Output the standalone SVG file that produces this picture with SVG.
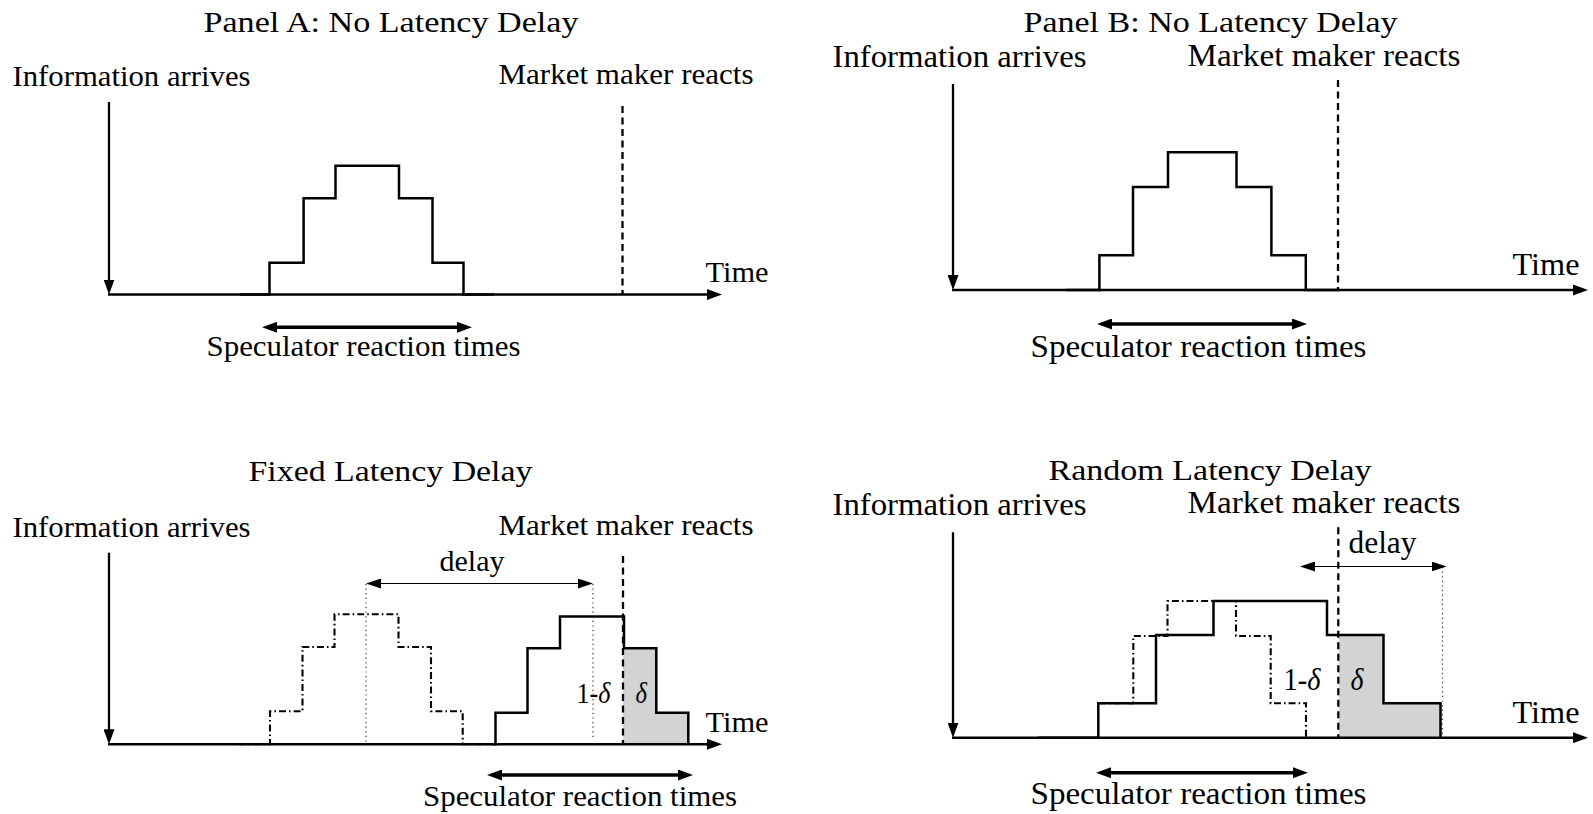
<svg xmlns="http://www.w3.org/2000/svg" width="1593" height="814" viewBox="0 0 1593 814">
  <style>
    text { font-family: "Liberation Serif", "Times New Roman", serif; fill: #000; }
    .t { font-size: 29px; }
    .tb { font-size: 30.5px; }
    .it { font-style: italic; }
    .axis { stroke: #000; stroke-width: 2.6; fill: none; }
    .info { stroke: #000; stroke-width: 2.3; fill: none; }
    .step { stroke: #000; stroke-width: 2.5; fill: none; stroke-linejoin: miter; }
    .ghost { stroke: #000; stroke-width: 2.1; fill: none; stroke-dasharray: 7 3 1.6 3; }
    .mm { stroke: #000; stroke-width: 2.3; fill: none; stroke-dasharray: 7 4.5; }
    .dot { stroke: #333; stroke-width: 1.2; fill: none; stroke-dasharray: 1.2 3.4; }
    .span { stroke: #000; stroke-width: 3.4; fill: none; }
    .thin { stroke: #000; stroke-width: 1.2; fill: none; }
    .share { fill: #d3d3d3; stroke: none; }
  </style>
  <defs>
    <!-- large head for axes and the reaction-time span -->
    <marker id="head" viewBox="0 0 15 11" refX="10" refY="5.5" markerWidth="15" markerHeight="11" markerUnits="userSpaceOnUse" orient="auto-start-reverse">
      <path d="M0,0 L15,5.5 L0,11 Z" fill="#000"/>
    </marker>
    <!-- smaller head for the thin delay span -->
    <marker id="headThin" viewBox="0 0 15 10" refX="13" refY="5" markerWidth="15" markerHeight="10" markerUnits="userSpaceOnUse" orient="auto-start-reverse">
      <path d="M0,0 L15,5 L0,10 Z" fill="#000"/>
    </marker>
  </defs>

  <!-- Panel A -->
  <g id="panelA">
    <text class="t" x="203.5" y="32" textLength="375" lengthAdjust="spacingAndGlyphs">Panel A: No Latency Delay</text>
    <text class="t" x="12.5" y="85.5" textLength="238" lengthAdjust="spacingAndGlyphs">Information arrives</text>
    <text class="t" x="498.5" y="84" textLength="255" lengthAdjust="spacingAndGlyphs">Market maker reacts</text>
    <text class="t" x="705.5" y="281.5" textLength="63" lengthAdjust="spacingAndGlyphs">Time</text>
    <text class="t" x="206.5" y="356" textLength="314" lengthAdjust="spacingAndGlyphs">Speculator reaction times</text>
    <path class="step" d="M240,294.5 H269.5 V262.7 H303.6 V198.3 H335.5 V165.7 H399 V198.3 H432.5 V262.7 H463.5 V294.5 H494"/>
    <line class="mm" x1="622.5" y1="106" x2="622.5" y2="294.5"/>
  </g>

  <!-- Panel B -->
  <g id="panelB">
    <text class="t" x="1023.5" y="32" textLength="374" lengthAdjust="spacingAndGlyphs">Panel B: No Latency Delay</text>
    <text class="tb" x="832.5" y="66.5" textLength="254" lengthAdjust="spacingAndGlyphs">Information arrives</text>
    <text class="tb" x="1187.5" y="65.5" textLength="273" lengthAdjust="spacingAndGlyphs">Market maker reacts</text>
    <text class="tb" x="1512.5" y="275" textLength="67" lengthAdjust="spacingAndGlyphs">Time</text>
    <text class="tb" x="1030.5" y="357" textLength="336" lengthAdjust="spacingAndGlyphs">Speculator reaction times</text>
    <path class="step" d="M1066,290 H1099.4 V255.3 H1133 V187 H1168 V152.3 H1236.5 V187 H1271.4 V255.3 H1305.8 V290 H1339"/>
    <line class="mm" x1="1338" y1="80" x2="1338" y2="290"/>
  </g>

  <!-- Panel C -->
  <g id="panelC">
    <text class="t" x="248.5" y="480.5" textLength="284" lengthAdjust="spacingAndGlyphs">Fixed Latency Delay</text>
    <text class="t" x="12.5" y="536.5" textLength="238" lengthAdjust="spacingAndGlyphs">Information arrives</text>
    <text class="t" x="498.5" y="535" textLength="255" lengthAdjust="spacingAndGlyphs">Market maker reacts</text>
    <text class="t" x="439.5" y="571" textLength="65" lengthAdjust="spacingAndGlyphs">delay</text>
    <text class="t" x="705.5" y="731.5" textLength="63" lengthAdjust="spacingAndGlyphs">Time</text>
    <text class="t" x="423" y="806" textLength="314" lengthAdjust="spacingAndGlyphs">Speculator reaction times</text>
    <path class="share" d="M623,744.3 V648.3 H656.3 V712.7 H688.3 V744.3 Z"/>
    <line class="dot" x1="366" y1="584" x2="366" y2="744"/>
    <line class="dot" x1="593" y1="584" x2="593" y2="737"/>
    <path class="ghost" d="M239,744.3 H270 V711.3 H302.5 V647 H334.5 V614.3 H398.5 V647 H431 V711.3 H462.7 V744.3 H494"/>
    <path class="step" d="M494,744.3 H495.5 V712.7 H527.5 V648.3 H560 V616.5 H624 V648.3 H656.3 V712.7 H688.3 V744.3"/>
    <line class="mm" x1="623" y1="556" x2="623" y2="744.3"/>
    <line class="thin" x1="368" y1="583.5" x2="591" y2="583.5" marker-start="url(#headThin)" marker-end="url(#headThin)"/>
    <text class="t" x="576.5" y="702.7" textLength="34" lengthAdjust="spacingAndGlyphs">1-<tspan class="it">δ</tspan></text>
    <text class="t it" x="635.5" y="702.7" textLength="11.5" lengthAdjust="spacingAndGlyphs">δ</text>
  </g>

  <!-- Panel D -->
  <g id="panelD">
    <text class="t" x="1048.5" y="480" textLength="323" lengthAdjust="spacingAndGlyphs">Random Latency Delay</text>
    <text class="tb" x="832.5" y="515" textLength="254" lengthAdjust="spacingAndGlyphs">Information arrives</text>
    <text class="tb" x="1187.5" y="513" textLength="273" lengthAdjust="spacingAndGlyphs">Market maker reacts</text>
    <text class="tb" x="1348.5" y="553" textLength="68" lengthAdjust="spacingAndGlyphs">delay</text>
    <text class="tb" x="1512.5" y="723" textLength="67" lengthAdjust="spacingAndGlyphs">Time</text>
    <text class="tb" x="1030.5" y="804" textLength="336" lengthAdjust="spacingAndGlyphs">Speculator reaction times</text>
    <path class="share" d="M1339,737.7 V635 H1383.5 V703.3 H1440.5 V737.7 Z"/>
    <line class="dot" x1="1442.5" y1="567" x2="1442.5" y2="737.7"/>
    <path class="ghost" d="M1099,703.3 H1133.3 V636 H1167.5 V601 H1236 V636 H1270.7 V703.3 H1306 V737.7"/>
    <path class="step" d="M1038,737.7 H1098.3 V703.3 H1156 V635 H1213.5 V601 H1327 V635 H1383.5 V703.3 H1440.5 V737.7"/>
    <line class="mm" x1="1338.3" y1="527.3" x2="1338.3" y2="737.7"/>
    <line class="thin" x1="1302" y1="566.5" x2="1444.5" y2="566.5" marker-start="url(#headThin)" marker-end="url(#headThin)"/>
    <text class="tb" x="1283.5" y="690" textLength="37" lengthAdjust="spacingAndGlyphs">1-<tspan class="it">δ</tspan></text>
    <text class="tb it" x="1350.5" y="690" textLength="13" lengthAdjust="spacingAndGlyphs">δ</text>
  </g>

  <!-- arrows: information arrival, time axes, reaction-time spans -->
  <g id="connectors">
    <line class="info" x1="109" y1="102" x2="109" y2="289.5" marker-end="url(#head)"/>
    <line class="axis" x1="108" y1="294.5" x2="717" y2="294.5" marker-end="url(#head)"/>
    <line class="span" x1="267" y1="327.3" x2="467" y2="327.3" marker-start="url(#head)" marker-end="url(#head)"/>

    <line class="info" x1="953" y1="84" x2="953" y2="285" marker-end="url(#head)"/>
    <line class="axis" x1="952" y1="290" x2="1583" y2="290" marker-end="url(#head)"/>
    <line class="span" x1="1102" y1="324" x2="1302" y2="324" marker-start="url(#head)" marker-end="url(#head)"/>

    <line class="info" x1="109" y1="552.7" x2="109" y2="739.3" marker-end="url(#head)"/>
    <line class="axis" x1="108" y1="744.3" x2="717" y2="744.3" marker-end="url(#head)"/>
    <line class="span" x1="492" y1="775" x2="688" y2="775" marker-start="url(#head)" marker-end="url(#head)"/>

    <line class="info" x1="953" y1="532.3" x2="953" y2="732.7" marker-end="url(#head)"/>
    <line class="axis" x1="952" y1="737.7" x2="1583" y2="737.7" marker-end="url(#head)"/>
    <line class="span" x1="1101" y1="772.7" x2="1303" y2="772.7" marker-start="url(#head)" marker-end="url(#head)"/>
  </g>
</svg>
